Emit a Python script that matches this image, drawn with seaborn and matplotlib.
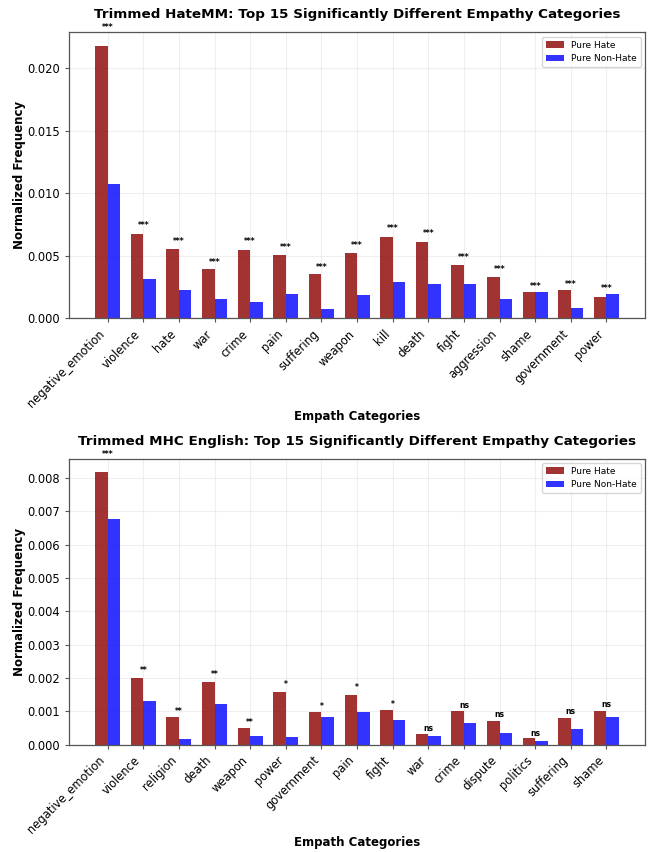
import matplotlib
matplotlib.use('Agg')
import matplotlib.pyplot as plt
import seaborn as sns
import pandas as pd

# --- HateMM (top panel) ---
hatemm_categories = ['negative_emotion', 'violence', 'hate', 'war', 'crime', 'pain',
                     'suffering', 'weapon', 'kill', 'death', 'fight', 'aggression',
                     'shame', 'government', 'power']
hatemm_hate = [0.0218, 0.00672, 0.00552, 0.00394, 0.00549, 0.00506, 0.00353, 0.00522,
               0.00654, 0.00613, 0.00429, 0.00335, 0.00212, 0.00228, 0.00174]
hatemm_nonhate = [0.01074, 0.00316, 0.00228, 0.00156, 0.00128, 0.00196, 0.00078, 0.00185,
                  0.00292, 0.00273, 0.00273, 0.00153, 0.00210, 0.00080, 0.00196]
hatemm_sig = ['***'] * 15

# --- MHC English (bottom panel) ---
mhc_categories = ['negative_emotion', 'violence', 'religion', 'death', 'weapon', 'power',
                  'government', 'pain', 'fight', 'war', 'crime', 'dispute', 'politics',
                  'suffering', 'shame']
mhc_hate = [0.00817, 0.00200, 0.00083, 0.00188, 0.00051, 0.00158, 0.00097, 0.00150,
            0.00103, 0.00033, 0.00100, 0.00072, 0.00020, 0.00081, 0.00101]
mhc_nonhate = [0.00678, 0.00130, 0.00018, 0.00123, 0.00025, 0.00023, 0.00082, 0.00098,
               0.00073, 0.00026, 0.00066, 0.00035, 0.00011, 0.00047, 0.00083]
mhc_sig = ['***', '**', '**', '**', '**', '*', '*', '*', '*', 'ns', 'ns', 'ns', 'ns', 'ns', 'ns']

groups = ['Pure Hate', 'Pure Non-Hate']
palette = {'Pure Hate': 'darkred', 'Pure Non-Hate': 'blue'}

sns.set_style('ticks')
plt.rcParams['font.family'] = ['DejaVu Sans']
plt.rcParams['text.color'] = 'black'
plt.rcParams['axes.labelcolor'] = 'black'
plt.rcParams['xtick.color'] = '#555555'
plt.rcParams['ytick.color'] = '#555555'
plt.rcParams['xtick.labelcolor'] = 'black'
plt.rcParams['ytick.labelcolor'] = 'black'

fig, axes = plt.subplots(2, 1, figsize=(6.51, 8.52), dpi=100)
fig.subplots_adjust(left=0.106, right=0.991, top=0.962, bottom=0.126, hspace=0.49)


def draw_panel(ax, cats, hate, nonhate, sig, title):
    df = pd.DataFrame({
        'category': cats * 2,
        'freq': hate + nonhate,
        'group': [groups[0]] * len(cats) + [groups[1]] * len(cats),
    })
    sns.barplot(data=df, x='category', y='freq', hue='group', order=cats,
                hue_order=groups, palette=palette, saturation=1, alpha=0.8,
                width=0.7, linewidth=0, errorbar=None, ax=ax)
    n = len(cats)
    ax.set_xlim(-1.085, n - 1 + 1.085)
    ax.set_ylim(0, max(max(hate), max(nonhate)) * 1.05)
    # significance markers just above the taller bar of each pair
    for i in range(n):
        top = max(hate[i], nonhate[i])
        ax.text(i, top * 1.05, sig[i], ha='center', va='bottom',
                fontsize=5.5, fontweight='bold')
    ax.set_title(title, fontsize=9.7, fontweight='bold', pad=10)
    ax.set_xlabel('Empath Categories', fontsize=8.5, fontweight='bold', labelpad=0)
    ax.set_ylabel('Normalized Frequency', fontsize=8.5, fontweight='bold', labelpad=1)
    ax.set_xticks(range(n))
    ax.set_xticklabels(cats, rotation=45, ha='right', fontsize=8.3)
    ax.tick_params(axis='y', labelsize=8.3)
    ax.tick_params(length=3)
    ax.grid(True, alpha=0.3)
    ax.set_axisbelow(True)
    for s in ax.spines.values():
        s.set_color('#555555')
        s.set_linewidth(0.9)
    ax.legend(loc='upper right', fontsize=6.5, title=None, framealpha=0.8)


draw_panel(axes[0], hatemm_categories, hatemm_hate, hatemm_nonhate, hatemm_sig,
           'Trimmed HateMM: Top 15 Significantly Different Empathy Categories')
draw_panel(axes[1], mhc_categories, mhc_hate, mhc_nonhate, mhc_sig,
           'Trimmed MHC English: Top 15 Significantly Different Empathy Categories')

fig.savefig('out.png', dpi=100)
